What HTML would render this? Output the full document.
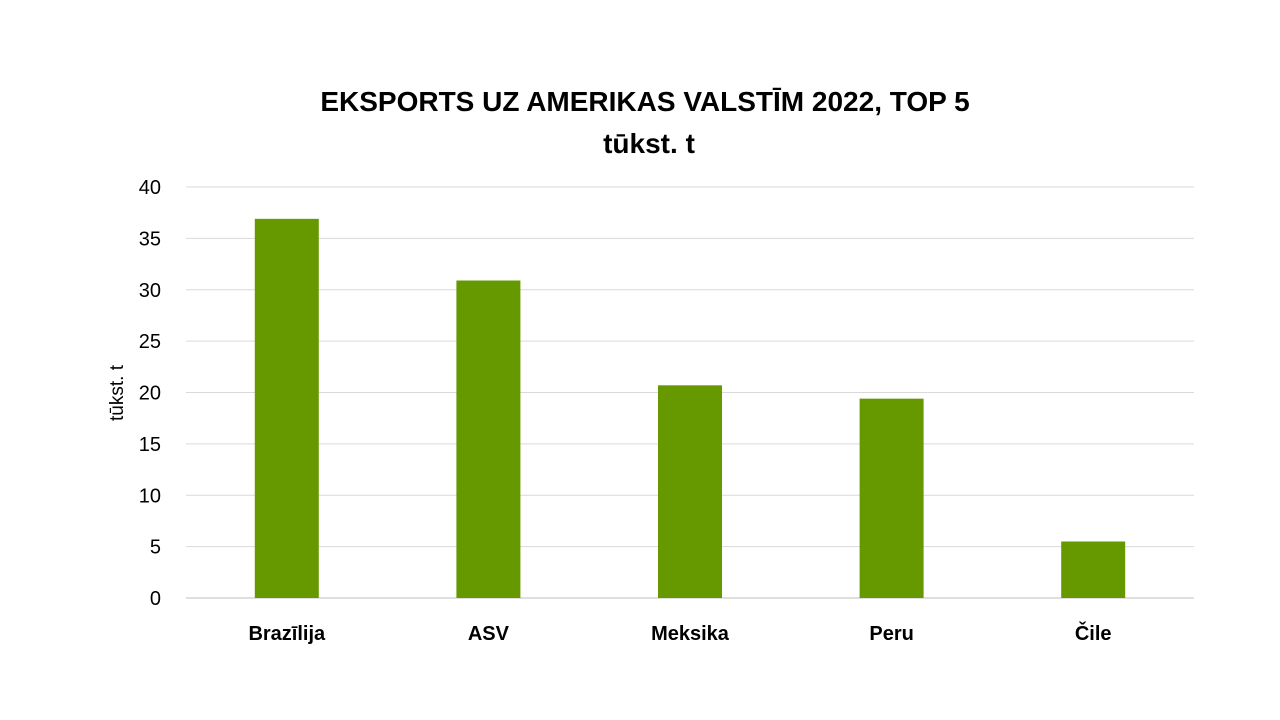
<!DOCTYPE html>
<html><head><meta charset="utf-8"><style>
body{margin:0;background:#fff;}
svg{display:block;font-family:"Liberation Sans",sans-serif;}
</style></head><body>
<svg width="1280" height="720" id="chart">
<text x="645" y="111" text-anchor="middle" font-size="28" font-weight="bold" fill="#000">EKSPORTS UZ AMERIKAS VALSTĪM 2022, TOP 5</text>
<text x="649" y="153" text-anchor="middle" font-size="28" font-weight="bold" fill="#000">tūkst. t</text>
<text transform="translate(123,393) rotate(-90)" text-anchor="middle" font-size="19" fill="#000">tūkst. t</text>
<g id="grid"></g><g id="bars"></g><g id="labels"></g>
</svg>
<script>
const categories=["Brazīlija","ASV","Meksika","Peru","Čile"];
const values=[36.9,30.9,20.7,19.4,5.5];
const ticks=[0,5,10,15,20,25,30,35,40];
const x0=186,x1=1194,yTop=187,yBot=598,yMax=40;
const y=v=>yBot-(v/yMax)*(yBot-yTop);
const band=(x1-x0)/categories.length;
const xc=i=>x0+band*(i+0.5);
const ns="http://www.w3.org/2000/svg";
const g=document.getElementById('grid'),b=document.getElementById('bars'),l=document.getElementById('labels');
ticks.forEach(t=>{
 const ln=document.createElementNS(ns,'line');
 ln.setAttribute('x1',x0);ln.setAttribute('x2',x1);ln.setAttribute('y1',y(t));ln.setAttribute('y2',y(t));
 ln.setAttribute('stroke',t===0?'#bfbfbf':'#d9d9d9');ln.setAttribute('stroke-width','1');
 
 
 g.appendChild(ln);
 const tx=document.createElementNS(ns,'text');
 tx.setAttribute('x',161);tx.setAttribute('y',y(t)+7);tx.setAttribute('text-anchor','end');tx.setAttribute('font-size','20');
 tx.textContent=t;
 
 
 g.appendChild(tx);
});
categories.forEach((c,i)=>{
 const r=document.createElementNS(ns,'rect');
 r.setAttribute('x',xc(i)-32);r.setAttribute('width',64);r.setAttribute('y',y(values[i]));r.setAttribute('height',yBot-y(values[i]));
 r.setAttribute('fill','#669900');
 
 
 b.appendChild(r);
 const tx=document.createElementNS(ns,'text');
 tx.setAttribute('x',xc(i));tx.setAttribute('y',640);tx.setAttribute('text-anchor','middle');tx.setAttribute('font-size','20');tx.setAttribute('font-weight','bold');
 tx.textContent=c;
 
 
 l.appendChild(tx);
});
</script>
</body></html>
